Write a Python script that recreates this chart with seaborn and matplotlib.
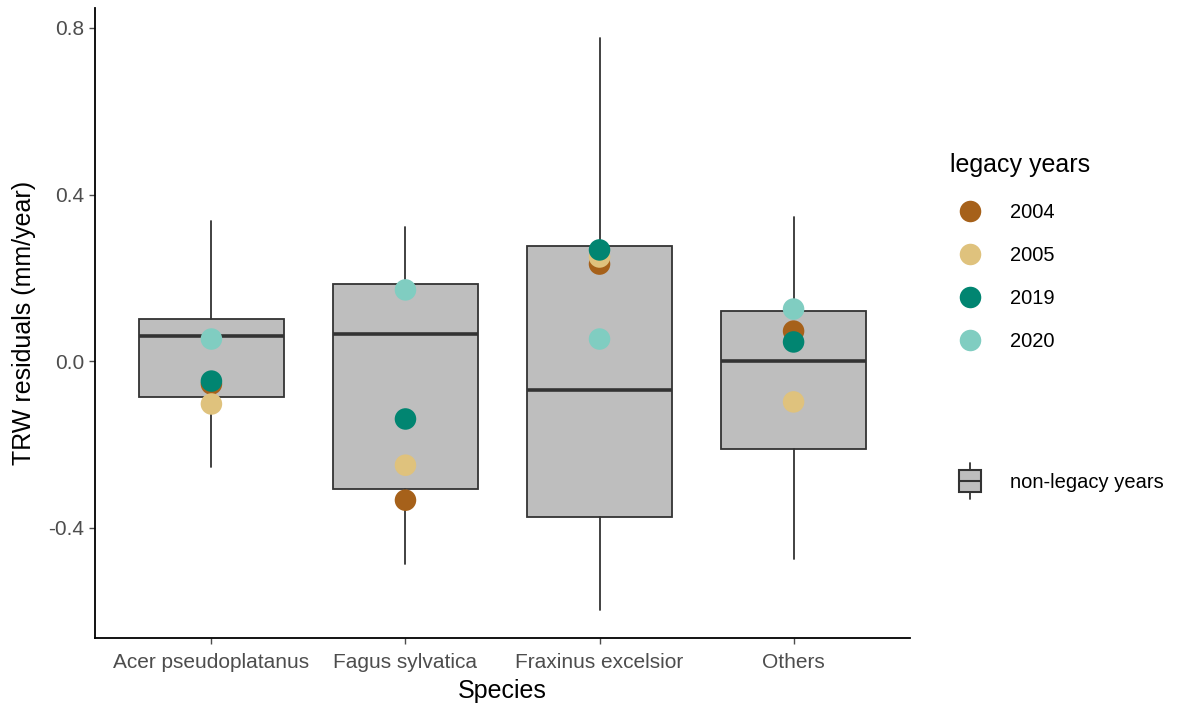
import pandas as pd
import matplotlib
matplotlib.use("Agg")
import matplotlib.pyplot as plt
import seaborn as sns
from matplotlib.patches import Rectangle
from matplotlib.lines import Line2D
from matplotlib.legend_handler import HandlerBase

# Box statistics of non-legacy years
species = ["Acer pseudoplatanus", "Fagus sylvatica", "Fraxinus excelsior", "Others"]
whisker_low = [-0.255, -0.488, -0.598, -0.476]
q1 = [-0.087, -0.307, -0.375, -0.211]
median = [0.060, 0.065, -0.070, 0.000]
q3 = [0.101, 0.185, 0.276, 0.120]
whisker_high = [0.336, 0.322, 0.776, 0.346]

# Legacy year residuals per species
years = ["2004", "2005", "2019", "2020"]
res_2004 = [-0.055, -0.334, 0.233, 0.072]
res_2005 = [-0.103, -0.250, 0.250, -0.098]
res_2019 = [-0.048, -0.139, 0.267, 0.046]
res_2020 = [0.053, 0.171, 0.053, 0.125]
year_colors = ["#A6611A", "#DFC27D", "#018571", "#80CDC1"]

sns.set_theme(style="white")
plt.rcParams["font.family"] = ["Liberation Sans", "DejaVu Sans"]

fig = plt.figure(figsize=(11.78, 7.06), dpi=100)
ax = fig.add_axes([95 / 1178, 68 / 706, 815 / 1178, 630 / 706])

stats = []
for i, name in enumerate(species):
    stats.append({"label": name, "whislo": whisker_low[i], "q1": q1[i], "med": median[i],
                  "q3": q3[i], "whishi": whisker_high[i], "fliers": []})

edge = "#333333"
ax.bxp(stats, positions=range(len(species)), widths=0.75, patch_artist=True, showcaps=False,
       boxprops=dict(facecolor="#BEBEBE", edgecolor=edge, linewidth=1.3),
       medianprops=dict(color=edge, linewidth=2.6),
       whiskerprops=dict(color=edge, linewidth=1.3), zorder=1)

points = pd.DataFrame({
    "Species": species * 4,
    "year": [y for y in years for _ in species],
    "residual": res_2004 + res_2005 + res_2019 + res_2020,
})
sns.stripplot(data=points, x="Species", y="residual", hue="year", hue_order=years,
              palette=year_colors, jitter=False, size=15.5, linewidth=0, ax=ax, zorder=3)

ax.set_xlim(-0.6, 3.6)
ax.set_ylim(-0.665, 0.848)
ax.set_yticks([-0.4, 0.0, 0.4, 0.8])
ax.set_yticklabels(["-0.4", "0.0", "0.4", "0.8"])
ax.set_xticks(range(len(species)))
ax.set_xticklabels(species)
ax.tick_params(axis="both", colors="#4D4D4D", labelsize=15, length=4, width=1, left=True, bottom=True)
ax.tick_params(axis="x", pad=7)
for lab in ax.get_xticklabels() + ax.get_yticklabels():
    lab.set_color("#4D4D4D")
ax.set_xlabel("Species", fontsize=18, color="black", labelpad=5)
ax.set_ylabel("TRW residuals (mm/year)", fontsize=18, color="black", labelpad=9)
sns.despine(ax=ax)
for side in ["left", "bottom"]:
    ax.spines[side].set_color("black")
    ax.spines[side].set_linewidth(1.3)

ax.legend_.remove()

handles = [Line2D([], [], marker="o", linestyle="", markersize=15.5, markerfacecolor=c,
                  markeredgewidth=0) for c in year_colors]
leg1 = fig.legend(handles, years, title="legacy years", loc="upper left",
                  bbox_to_anchor=(950 / 1178, 1 - 153 / 706), frameon=False, fontsize=14.5,
                  title_fontsize=18, labelspacing=1.18, handletextpad=1.0, borderaxespad=0,
                  borderpad=0)
leg1._legend_box.align = "left"
leg1._legend_box.sep = 19
for t in leg1.get_texts():
    t.set_color("black")
leg1.get_title().set_color("black")


class BoxHandler(HandlerBase):
    def create_artists(self, legend, orig, xd, yd, width, height, fontsize, trans):
        cx = xd + width / 2
        cy = yd + height / 2
        w = 16
        h = 16
        box = Rectangle((cx - w / 2, cy - h / 2), w, h, facecolor="#BEBEBE",
                        edgecolor=edge, linewidth=1.5, transform=trans)
        med = Line2D([cx - w / 2, cx + w / 2], [cy, cy], color=edge, lw=1.5, transform=trans)
        top = Line2D([cx, cx], [cy + h / 2, cy + h / 2 + 5], color=edge, lw=1.3, transform=trans)
        bot = Line2D([cx, cx], [cy - h / 2, cy - h / 2 - 5], color=edge, lw=1.3, transform=trans)
        return [box, med, top, bot]


box_handle = Rectangle((0, 0), 1, 1)
leg2 = fig.legend([box_handle], ["non-legacy years"], loc="upper left",
                  bbox_to_anchor=(950 / 1178, 1 - 473 / 706), frameon=False, fontsize=14.5,
                  handler_map={Rectangle: BoxHandler()}, handletextpad=1.0, borderaxespad=0,
                  borderpad=0)
for t in leg2.get_texts():
    t.set_color("black")

fig.savefig("out.png", dpi=100)
